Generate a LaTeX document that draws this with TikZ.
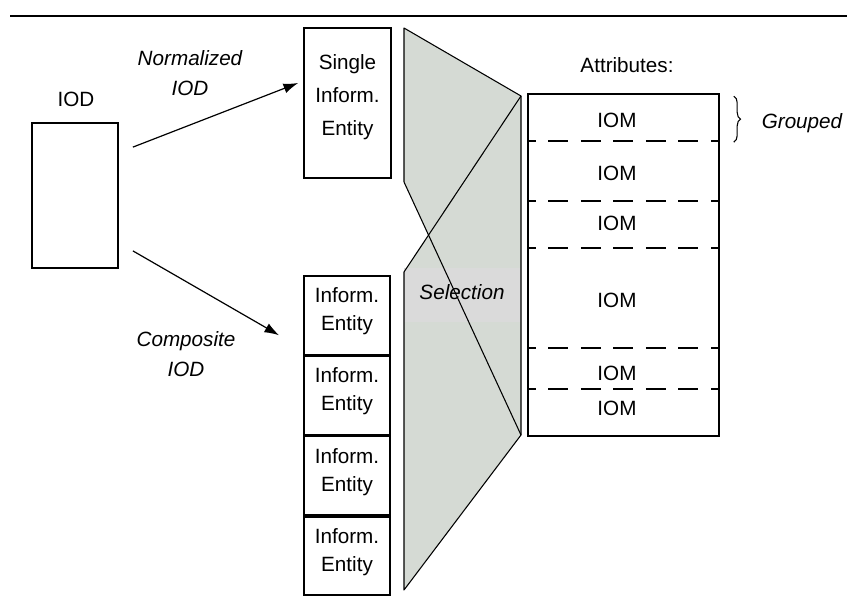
\documentclass[tikz,border=0pt]{standalone}
\usepackage{fontspec}
\setmainfont{Liberation Sans}
\usetikzlibrary{calc,arrows.meta,decorations.pathreplacing}

\definecolor{selfill}{RGB}{213,218,212}
\definecolor{sellabel}{RGB}{218,218,218}

\tikzset{
  lbl/.style={font=\fontsize{15.5}{21}\selectfont, inner sep=0pt, align=center},
  ilbl/.style={lbl, font=\fontsize{15.5}{23}\selectfont\itshape},
  box/.style={draw, line width=1.3pt, inner sep=0pt},
  arr/.style={line width=0.9pt, -{Latex[length=11pt,width=7.5pt]}},
  divider/.style={line width=1.3pt, dash pattern=on 15pt off 9.4pt, dash phase=8.5pt},
  thin/.style={line width=0.8pt, line join=round}
}

\begin{document}
\begin{tikzpicture}[x=0.75pt, y=-0.75pt]
  \useasboundingbox (0,0) rectangle (847,599);

  % rule across the top
  \draw[line width=2pt] (10,16) -- (847,16);

  % source object
  \node[box, minimum width=86*0.75pt, minimum height=145*0.75pt] (iod) at (75,195.5) {};
  \node[lbl] (iodlbl) at (76,99) {IOD};

  % normalized branch
  \node[box, minimum width=87*0.75pt, minimum height=150*0.75pt] (single) at (347.5,103) {};
  \node[lbl, font=\fontsize{15.5}{25}\selectfont] (singletxt) at (347.5,97) {Single\\Inform.\\Entity};
  \node[ilbl] (normlbl) at (190,73) {Normalized\\IOD};

  % composite branch: stacked entities
  \node[box, minimum width=86*0.75pt, minimum height=78.5*0.75pt] (ie1) at (347,315.25) {};
  \node[box, minimum width=86*0.75pt, minimum height=78.5*0.75pt, anchor=north] (ie2) at (ie1.south) {};
  \node[box, minimum width=86*0.75pt, minimum height=78.5*0.75pt, anchor=north] (ie3) at (ie2.south) {};
  \node[box, minimum width=86*0.75pt, minimum height=78.5*0.75pt, anchor=north] (ie4) at (ie3.south) {};
  \foreach \b in {ie1,ie2,ie3,ie4}
    \node[lbl] at ($(\b.center)+(0,-4)$) {Inform.\\Entity};
  \node[ilbl] (complbl) at (186,354) {Composite\\IOD};

  % arrows from the IOD
  \draw[arr] ($(iod.north east)+(14,25)$) -- ($(single.west)+(-5,-20)$);
  \draw[arr] ($(iod.south east)+(14,-18)$) -- ($(ie1.west)+(-24,20)$);

  % selection funnel
  \coordinate (A) at (404,28);
  \coordinate (B) at (521,96);
  \coordinate (C) at (521,435);
  \coordinate (D) at (404,590);
  \coordinate (E) at (404,272);
  \coordinate (F) at (404,182);
  \coordinate (X) at (intersection of F--C and E--B);
  \fill[selfill] (A) -- (B) -- (C) -- (D) -- (E) -- (X) -- (F) -- cycle;
  \fill[sellabel] (404,268) rectangle (521,322);
  \node[ilbl] (sel) at (462,292) {Selection};
  \draw[thin] (F) -- (A) -- (B) -- (C) -- (D) -- (E);
  \draw[thin] (F) -- (C);
  \draw[thin] (E) -- (B);

  % attributes column
  \node[lbl] (attrlbl) at (627,65) {Attributes:};
  \node[box, minimum width=191*0.75pt, minimum height=342*0.75pt] (attr) at (623.5,265) {};
  \foreach \dy in {48,108,155,255,296}
    \draw[divider] ($(attr.north west)+(0,\dy)$) -- ($(attr.north east)+(0,\dy)$);
  \foreach \y in {120,173,223,300,373,408}
    \node[lbl] at (617,\y) {IOM};

  % grouping brace
  \draw[line width=0.8pt, decorate, decoration={brace, amplitude=5pt}]
    ($(attr.north east)+(14,3)$) -- ($(attr.north east)+(14,49)$);
  \node[ilbl] (grplbl) at (802,123) {Grouped};
\end{tikzpicture}
\end{document}
